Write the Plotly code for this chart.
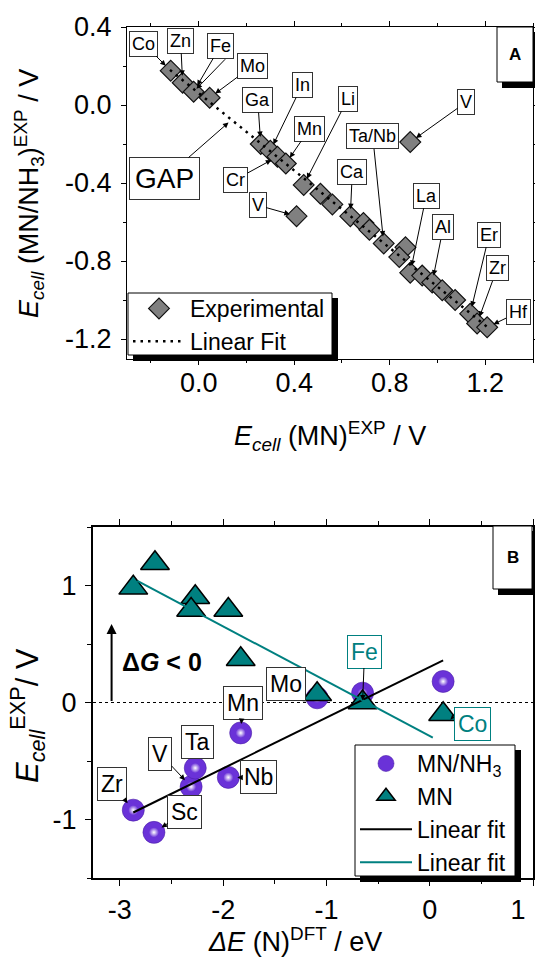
import plotly.graph_objects as go

FONT = "Liberation Sans, Arial, sans-serif"
W, H = 535, 963

# ---------------- Panel A data ----------------
a_x = [-0.117, -0.067, -0.021, 0.046, 0.26, 0.30, 0.33, 0.365, 0.41, 0.44, 0.51, 0.56, 0.635,
       0.69, 0.715, 0.775, 0.866, 0.84, 0.886, 0.936, 0.978, 1.02, 1.074, 1.137, 1.166, 1.208, 0.886]
a_y = [0.176, 0.114, 0.068, 0.037, -0.20, -0.235, -0.265, -0.30, -0.57, -0.41, -0.455, -0.51, -0.57,
       -0.605, -0.64, -0.71, -0.73, -0.78, -0.86, -0.875, -0.91, -0.95, -1.00, -1.07, -1.12, -1.14, -0.19]
a_fit_x = [-0.12, 1.21]
a_fit_y = [0.18, -1.14]
a_gap_point = (0.125, -0.09)

a_label_text = ["Co", "Zn", "Fe", "Mo", "Ga", "In", "Cr", "Mn", "V", "Li", "Ca", "Ta/Nb", "V",
                "La", "Al", "Er", "Zr", "Hf"]
a_label_idx = [0, 1, 2, 3, 4, 5, 6, 7, 8, 9, 12, 15, 26, 18, 20, 23, 24, 25]
a_label_off = [(-27, -27), (-2, -42), (27, -46), (43, -32), (-3, -44), (32, -66), (-42, 23), (24, -35),
               (-39, -11), (44, -86), (2, -44), (-11, -107), (56, -40), (16, -77), (11, -55),
               (19, -79), (20, -55), (31, -15)]

a_xtick_vals = [0.0, 0.4, 0.8, 1.2]
a_xtick_text = ["0.0", "0.4", "0.8", "1.2"]
a_ytick_vals = [-1.2, -0.8, -0.4, 0.0, 0.4]
a_ytick_text = ["-1.2", "-0.8", "-0.4", "0.0", "0.4"]

# ---------------- Panel B data ----------------
b_sph_names = ["Zr", "Sc", "V", "Ta", "Nb", "Mn", "Mo", "Fe", "Co"]
b_sph_x = [-2.87, -2.67, -2.31, -2.27, -1.95, -1.83, -1.09, -0.65, 0.13]
b_sph_y = [-0.92, -1.11, -0.72, -0.56, -0.64, -0.26, 0.04, 0.08, 0.18]
b_tri_x = [-2.87, -2.66, -2.27, -2.31, -1.95, -1.83, -1.09, -0.65, 0.13]
b_tri_y = [0.98, 1.19, 0.90, 0.79, 0.79, 0.37, 0.07, 0.0, -0.10]
b_fit_sph_x = [-2.87, 0.13]
b_fit_sph_y = [-0.94, 0.36]
b_fit_tri_x = [-2.83, 0.03]
b_fit_tri_y = [1.04, -0.30]

b_xtick_vals = [-3, -2, -1, 0, 1]
b_xtick_text = ["-3", "-2", "-1", "0", "1\u00a0\u00a0\u00a0\u00a0"]
b_ytick_vals = [-1, 0, 1]
b_ytick_text = ["-1", "0", "1"]

PURPLE = "#6a32d8"
TEAL = "#008080"
GRAY = "#808080"


def px(x):
    return x / W


def py(y):
    return 1 - y / H


fig = go.Figure()

# Panel A traces
fig.add_trace(go.Scatter(
    x=a_x, y=a_y, mode="markers", name="Experimental", xaxis="x", yaxis="y", legend="legend",
    marker=dict(symbol="diamond", size=16, color=GRAY, line=dict(color="#111111", width=1.2))))
fig.add_trace(go.Scatter(
    x=a_fit_x, y=a_fit_y, mode="lines", name="Linear Fit", xaxis="x", yaxis="y", legend="legend",
    line=dict(color="black", width=2.5, dash="2.5px,5px")))

# Panel B traces
fig.add_trace(go.Scatter(
    x=b_sph_x, y=b_sph_y, mode="markers", name="MN/NH<sub>3</sub>", xaxis="x2", yaxis="y2",
    legend="legend2",
    marker=dict(symbol="circle", size=22, color=PURPLE, line=dict(color="#4b1fa8", width=0.6))))
fig.add_trace(go.Scatter(
    x=b_sph_x, y=b_sph_y, mode="markers", showlegend=False, xaxis="x2", yaxis="y2", hoverinfo="skip",
    marker=dict(symbol="circle", size=10, color=PURPLE, line=dict(width=0),
                gradient=dict(type="radial", color="white"))))
fig.add_trace(go.Scatter(
    x=b_tri_x, y=b_tri_y, mode="markers", name="MN", xaxis="x2", yaxis="y2", legend="legend2",
    marker=dict(symbol="triangle-up", size=25, color=TEAL, line=dict(color="black", width=1.5))))
fig.add_trace(go.Scatter(
    x=b_fit_sph_x, y=b_fit_sph_y, mode="lines", name="Linear fit", xaxis="x2", yaxis="y2",
    legend="legend2", line=dict(color="black", width=2)))
fig.add_trace(go.Scatter(
    x=b_fit_tri_x, y=b_fit_tri_y, mode="lines", name="Linear fit", xaxis="x2", yaxis="y2",
    legend="legend2", line=dict(color=TEAL, width=2)))

ax_common = dict(showgrid=False, zeroline=False, showline=True, linecolor="black",
                 mirror="ticks", ticks="outside", tickcolor="black", automargin=False,
                 ticklabeloverflow="allow",
                 tickfont=dict(family=FONT, size=27, color="black"), tickmode="array")

fig.update_layout(
    width=W, height=H, autosize=False, margin=dict(l=0, r=0, t=0, b=0, pad=0),
    paper_bgcolor="white", plot_bgcolor="white", font=dict(family=FONT, color="black"),
    xaxis=dict(ax_common, domain=[px(127), px(533)], range=[-0.3, 1.4], anchor="y",
               tickvals=a_xtick_vals, ticktext=a_xtick_text, ticklen=5, linewidth=1.2,
               ticklabelstandoff=-5,
               minor=dict(ticks="outside", ticklen=3, dtick=0.2, tick0=0, tickcolor="black")),
    yaxis=dict(ax_common, domain=[py(358.5), py(27)], range=[-1.3, 0.4], anchor="x",
               tickvals=a_ytick_vals, ticktext=a_ytick_text, ticklen=5, linewidth=1.2,
               ticklabelstandoff=4,
               minor=dict(ticks="outside", ticklen=3, dtick=0.2, tick0=0, tickcolor="black")),
    xaxis2=dict(ax_common, domain=[px(93), px(533)], range=[-3.26, 1.0], anchor="y2",
                tickvals=b_xtick_vals, ticktext=b_xtick_text, ticklen=6, linewidth=2,
                ticklabelstandoff=1,
                minor=dict(ticks="outside", ticklen=4, dtick=0.5, tick0=0, tickcolor="black")),
    yaxis2=dict(ax_common, domain=[py(878), py(527)], range=[-1.5, 1.5], anchor="x2",
                tickvals=b_ytick_vals, ticktext=b_ytick_text, ticklen=6, linewidth=2,
                ticklabelstandoff=3,
                minor=dict(ticks="outside", ticklen=4, dtick=0.5, tick0=0, tickcolor="black")),
    legend=dict(x=px(128), y=py(287), xanchor="left", yanchor="top", bgcolor="rgba(0,0,0,0)",
                borderwidth=0, itemwidth=52,
                font=dict(family=FONT, size=23, color="black"), tracegroupgap=0),
    legend2=dict(x=px(355), y=py(742), xanchor="left", yanchor="top", bgcolor="rgba(0,0,0,0)",
                 borderwidth=0, itemwidth=52,
                 font=dict(family=FONT, size=23, color="black"), tracegroupgap=0),
)

shapes = []
# boxes with drop shadows: legend A, legend B, panel letters A and B
for (x0, y0, x1, y1) in [(128, 293, 332, 355), (355, 745, 515, 876), (497, 27, 533, 82), (493, 526, 532, 589)]:
    shapes.append(dict(type="rect", xref="paper", yref="paper", x0=px(x0 + 5), x1=px(x1 + 6),
                       y0=py(y1 + 6), y1=py(y0 + 5), fillcolor="black", line=dict(width=0), layer="above"))
    shapes.append(dict(type="rect", xref="paper", yref="paper", x0=px(x0), x1=px(x1),
                       y0=py(y1), y1=py(y0), fillcolor="white", line=dict(color="black", width=1),
                       layer="above"))
# zero line in panel B
shapes.append(dict(type="line", xref="x2 domain", yref="y2", x0=0, x1=1, y0=0, y1=0,
                   line=dict(color="black", width=1, dash="dot"), layer="below"))
fig.update_layout(shapes=shapes)

ann = []
lab_font_a = dict(family=FONT, size=18, color="black")
for t, i, (dx, dy) in zip(a_label_text, a_label_idx, a_label_off):
    ann.append(dict(x=a_x[i], y=a_y[i], xref="x", yref="y", text=t, showarrow=True, ax=dx, ay=dy,
                    arrowhead=2, arrowsize=1.1, arrowwidth=1, arrowcolor="black", standoff=7,
                    bgcolor="white", bordercolor="#333333", borderwidth=1, borderpad=2, font=lab_font_a))
# second Fe arrow
ann.append(dict(x=a_x[2], y=a_y[2], xref="x", yref="y", text="", showarrow=True, ax=33, ay=-34,
                arrowhead=2, arrowsize=1.1, arrowwidth=1, arrowcolor="black", standoff=4))
# GAP
ann.append(dict(x=a_gap_point[0], y=a_gap_point[1], xref="x", yref="y", text="GAP", showarrow=True,
                ax=-64, ay=56, arrowhead=2, arrowsize=1.1, arrowwidth=1, arrowcolor="black",
                bgcolor="white", bordercolor="#333333", borderwidth=1, borderpad=5,
                font=dict(family=FONT, size=28, color="black")))

# Panel B labels
lab_font_b = dict(family=FONT, size=23, color="black")
b_lab = [("Zr", 0, -21, -26), ("Sc", 1, 31, -20), ("V", 2, -31, -33), ("Ta", 3, 2, -26),
         ("Nb", 4, 30, 0), ("Mn", 5, 2, -30)]
for t, i, dx, dy in b_lab:
    ann.append(dict(x=b_sph_x[i], y=b_sph_y[i], xref="x2", yref="y2", text=t, showarrow=True,
                    ax=dx, ay=dy, arrowhead=2, arrowsize=1.1, arrowwidth=1, arrowcolor="black",
                    standoff=9, bgcolor="white", bordercolor="#333333", borderwidth=1, borderpad=3,
                    font=lab_font_b))
ann.append(dict(x=b_sph_x[6], y=b_sph_y[6], xref="x2", yref="y2", text="Mo", showarrow=False,
                xanchor="center", yanchor="middle",
                xshift=-31, yshift=14, bgcolor="white", bordercolor="#333333", borderwidth=1,
                borderpad=3, font=lab_font_b))
ann.append(dict(x=b_tri_x[7], y=b_tri_y[7], xref="x2", yref="y2", text="Fe", showarrow=True,
                ax=2, ay=-51, arrowhead=2, arrowsize=1.1, arrowwidth=1, arrowcolor="black", standoff=2,
                bgcolor="white", bordercolor=TEAL, borderwidth=1, borderpad=3,
                font=dict(family=FONT, size=23, color=TEAL)))
ann.append(dict(x=b_tri_x[8], y=b_tri_y[8], xref="x2", yref="y2", text="Co", showarrow=True,
                ax=29, ay=10, arrowhead=2, arrowsize=1.1, arrowwidth=1, arrowcolor="black", standoff=10,
                arrowside="start", bgcolor="white", bordercolor=TEAL, borderwidth=1, borderpad=3,
                font=dict(family=FONT, size=23, color=TEAL)))
# Delta G arrow and text
ann.append(dict(x=-3.08, y=0.67, ax=-3.08, ay=0.0, xref="x2", yref="y2", axref="x2", ayref="y2",
                text="", showarrow=True, arrowhead=2, arrowsize=1, arrowwidth=2, arrowcolor="black"))
ann.append(dict(x=-2.59, y=0.35, xref="x2", yref="y2", text="<b>Δ<i>G</i> &lt; 0</b>", showarrow=False,
                xanchor="center", yanchor="middle",
                font=dict(family=FONT, size=25, color="black")))


def paper_text(xp, yp, text, size, angle=0):
    return dict(x=px(xp), y=py(yp), xref="paper", yref="paper", text=text, showarrow=False,
                xanchor="center", yanchor="middle", textangle=angle,
                font=dict(family=FONT, size=size, color="black"))


# panel letters
ann.append(paper_text(515, 54.5, "<b>A</b>", 17))
ann.append(paper_text(512.5, 557.5, "<b>B</b>", 17))

# axis titles
ann.append(paper_text(29, 194, "<i>E</i><sub><i>cell</i></sub> (MN/NH<sub>3</sub>)<sup>EXP</sup> / V",
                      27, angle=-90))
ann.append(paper_text(330, 436, "<i>E</i><sub><i>cell</i></sub> (MN)<sup>EXP</sup> / V", 27))
ann.append(paper_text(295, 940, "<i>ΔE</i> (N)<sup>DFT</sup> / eV", 27))
ann.append(paper_text(27, 716, "<i>E</i><sub><i>cell</i></sub><sup>EXP</sup>/ V", 31, angle=-90))

fig.update_layout(annotations=ann)
fig.write_html("out.html",
               post_script="document.body.style.margin='0';document.body.style.padding='0';")
